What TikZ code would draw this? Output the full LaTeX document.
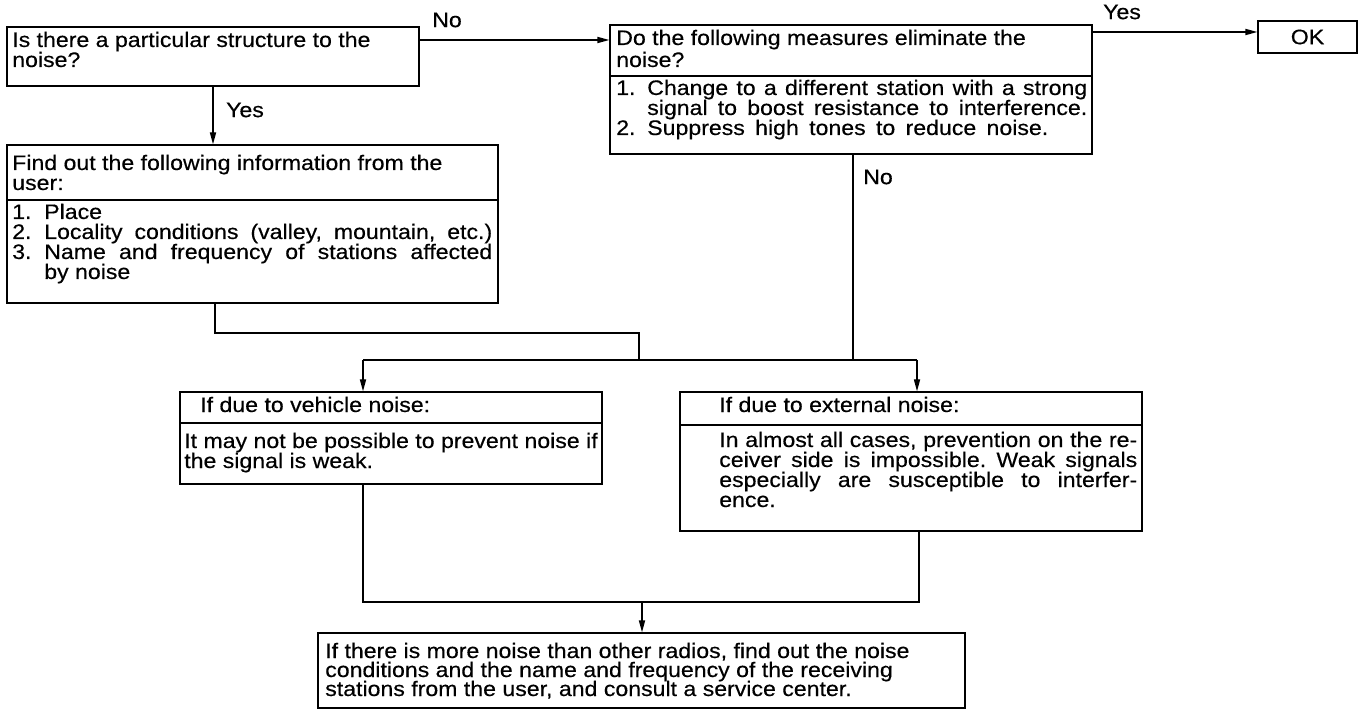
\documentclass[tikz,border=0pt]{standalone}
\usepackage{fontspec}
\setmainfont{Liberation Sans}[FakeStretch=1.1,FakeBold=0.4]
\usetikzlibrary{arrows.meta,fit}
\newcommand\fs{\fontsize{15.75pt}{15pt}\selectfont}
\frenchspacing
\begin{document}
\begin{tikzpicture}[x=0.75pt,y=-0.75pt,
  box/.style={draw,line width=1pt,inner sep=0pt},
  txt/.style={anchor=base west,inner sep=0pt,font=\fs},
  lbl/.style={inner sep=0pt,font=\fs},
  con/.style={line width=1pt},
  arr/.style={con,-{Triangle[length=9pt,width=4.6pt]}}]
\useasboundingbox (0,0) rectangle (1362,712);

% ---------- boxes ----------
\node[box,fit={(7,27)(419,86)}] (q1) {};
\node[box,fit={(610,25)(1092,154)}] (q2) {};
\node[box,fit={(1258,21)(1357,53)}] (ok) {};
\node[box,fit={(7,145)(498,303)}] (info) {};
\node[box,fit={(180,392)(602,484)}] (veh) {};
\node[box,fit={(680,392)(1142,531)}] (ext) {};
\node[box,fit={(318,633)(965,708)}] (fin) {};

% dividers
\draw[con] (q2.west |- 0,76) -- (q2.east |- 0,76);
\draw[con] (info.west |- 0,200) -- (info.east |- 0,200);
\draw[con] (veh.west |- 0,423) -- (veh.east |- 0,423);
\draw[con] (ext.west |- 0,425) -- (ext.east |- 0,425);

% ---------- texts ----------
\node[txt] (q1a) at (12,47) {Is there a particular structure to the};
\node[txt] (q1b) at (12,67) {noise?};

\node[txt] (q2a) at (616,45) {Do the following measures eliminate the};
\node[txt] (q2b) at (616,67) {noise?};
\node[txt] (q2n1) at (616,95) {1.};
\node[txt] (q2c) at (647,95) {\makebox[330pt][s]{Change to a different station with a strong}};
\node[txt] (q2d) at (647,115) {\makebox[330pt][s]{signal to boost resistance to interference.}};
\node[txt] (q2n2) at (616,135) {2.};
\node[txt] (q2e) at (647,135) {\makebox[300.75pt][s]{Suppress high tones to reduce noise.}};

\node[lbl] (oktxt) at (ok.center) {OK};

\node[txt] (ia) at (12,170) {Find out the following information from the};
\node[txt] (ib) at (12,190) {user:};
\node[txt] (in1) at (12,219) {1.};
\node[txt] (ic) at (44,219) {Place};
\node[txt] (in2) at (12,239) {2.};
\node[txt] (id) at (44,239) {\makebox[336pt][s]{Locality conditions (valley, mountain, etc.)}};
\node[txt] (in3) at (12,259) {3.};
\node[txt] (ie) at (44,259) {\makebox[336pt][s]{Name and frequency of stations affected}};
\node[txt] (iff) at (44,279) {by noise};

\node[txt] (va) at (200,412) {If due to vehicle noise:};
\node[txt] (vb) at (184,448) {It may not be possible to prevent noise if};
\node[txt] (vc) at (184,468) {the signal is weak.};

\node[txt] (ea) at (719,412) {If due to external noise:};
\node[txt] (eb) at (719,447) {\makebox[313.5pt][s]{In almost all cases, prevention on the re-}};
\node[txt] (ec) at (719,467) {\makebox[313.5pt][s]{ceiver side is impossible. Weak signals}};
\node[txt] (ed) at (719,487) {\makebox[313.5pt][s]{especially are susceptible to interfer-}};
\node[txt] (ee) at (719,507) {ence.};

\node[txt] (fa) at (325,658) {If there is more noise than other radios, find out the noise};
\node[txt] (fb) at (325,677) {conditions and the name and frequency of the receiving};
\node[txt] (fc) at (325,696) {stations from the user, and consult a service center.};

% ---------- labels ----------
\node[lbl] (lno1) at (447,20) {No};
\node[lbl] (lyes1) at (245,110) {Yes};
\node[lbl] (lyes2) at (1122,12) {Yes};
\node[lbl] (lno2) at (878,177) {No};

% ---------- junction points ----------
\coordinate (j1) at (215,333);
\coordinate (j2) at (639,333);
\coordinate (j3) at (639,360);
\coordinate (k1) at (853,360);
\coordinate (h1) at (363,360);
\coordinate (h2) at (917,360);
\coordinate (b1) at (363,602);
\coordinate (b2) at (919,602);
\coordinate (b3) at (642,602);

% ---------- connectors ----------
\draw[arr] (q1.east |- 0,40) -- (q2.west |- 0,40);
\draw[arr] (q2.east |- 0,32) -- (ok.west |- 0,32);
\draw[arr] (q1.south) -- (q1.south |- info.north);
\draw[con] (info.south -| j1) -- (j1) -- (j2) -- (j3);
\draw[con] (q2.south -| k1) -- (k1);
\draw[con] (h1) -- (h2);
\draw[arr] (h1) -- (h1 |- veh.north);
\draw[arr] (h2) -- (h2 |- ext.north);
\draw[con] (veh.south -| b1) -- (b1) -- (b2) -- (ext.south -| b2);
\draw[arr] (b3) -- (b3 |- fin.north);
\end{tikzpicture}
\end{document}
